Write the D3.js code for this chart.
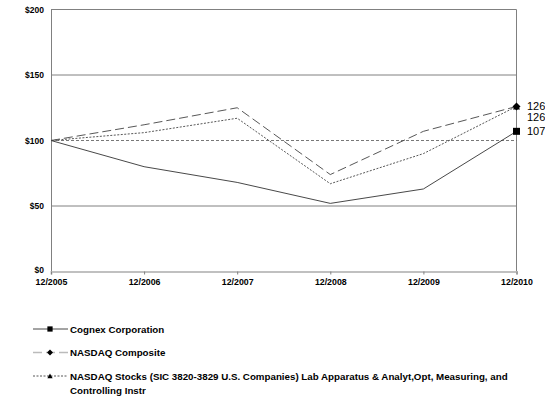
<!DOCTYPE html>
<html><head><meta charset="utf-8">
<script src="https://cdn.jsdelivr.net/npm/d3@7"></script>
<style>html,body{margin:0;padding:0;background:#fff;}svg{display:block;font-family:"Liberation Sans",Arial,sans-serif;}</style>
</head><body><div id="chart"></div>
<script>
const categories = ["12/2005","12/2006","12/2007","12/2008","12/2009","12/2010"];
const cognex = [100, 80, 68, 52, 63, 107];
const nasdaqComposite = [100, 112, 125, 74, 107, 126];
const labApparatus = [100, 106, 117, 67, 90, 126];
const yTicks = [0, 50, 100, 150, 200];
const seriesNames = ["Cognex Corporation", "NASDAQ Composite", "NASDAQ Stocks (SIC 3820-3829 U.S. Companies) Lab Apparatus & Analyt,Opt, Measuring, and", "Controlling Instr"];
const endLabels = ["126", "126", "107"];

const W = 545, H = 397;
const m = {left: 51, right: 516.5, top: 9.5, bottom: 271.5};
const svg = d3.select("#chart").append("svg").attr("width", W).attr("height", H);

const x = d3.scalePoint().domain(categories).range([m.left, m.right]);
const y = d3.scaleLinear().domain([0, 200]).range([m.bottom, m.top]);

[50, 150, 200].forEach(v => {
  svg.append("line").attr("x1", m.left).attr("x2", m.right).attr("y1", y(v)).attr("y2", y(v))
    .attr("stroke", "#808080").attr("stroke-width", 1);
});
svg.append("line").attr("x1", m.right).attr("x2", m.right).attr("y1", m.top).attr("y2", m.bottom)
  .attr("stroke", "#808080").attr("stroke-width", 1);
svg.append("line").attr("x1", m.left).attr("x2", m.right).attr("y1", y(100)).attr("y2", y(100))
  .attr("stroke", "#555").attr("stroke-width", 0.8).attr("stroke-dasharray", "3,2");

const yAxis = d3.axisLeft(y).tickValues(yTicks).tickSize(0).tickPadding(7).tickFormat(d => "$" + d);
const gy = svg.append("g").attr("transform", `translate(${m.left},0)`).call(yAxis);
gy.select(".domain").attr("stroke", "#808080");
gy.selectAll("text").attr("font-size", 8.5).attr("font-weight", "bold").attr("fill", "#000")
  .attr("font-family", "Liberation Sans, Arial, sans-serif")
  .attr("dy", d => d === 0 ? "0.1em" : "0.32em");

const xAxis = d3.axisBottom(x).tickSize(3).tickPadding(4);
const gx = svg.append("g").attr("transform", `translate(0,${m.bottom})`).call(xAxis);
gx.select(".domain").attr("stroke", "#c0c0c0").attr("stroke-width", 2);
gx.selectAll(".tick line").attr("stroke", "#808080");
gx.selectAll("text").attr("font-size", 8.8).attr("font-weight", "bold").attr("fill", "#000")
  .attr("font-family", "Liberation Sans, Arial, sans-serif");

const line = d3.line().x((d, i) => x(categories[i])).y(d => y(d));
const series = [
  {data: cognex, dash: null, width: 0.9, color: "#333"},
  {data: nasdaqComposite, dash: "9,4", width: 0.9, color: "#444"},
  {data: labApparatus, dash: "2,1.5", width: 0.9, color: "#444"}
];
series.forEach(s => {
  svg.append("path").datum(s.data).attr("d", line).attr("fill", "none")
    .attr("stroke", s.color).attr("stroke-width", s.width)
    .attr("stroke-dasharray", s.dash);
});

const diamond = "M0,-4L4,0L0,4L-4,0Z";
const square = "M-3.5,-3.5H3.5V3.5H-3.5Z";
const triangle = "M0,-3.5L3.5,3L-3.5,3Z";
const shapes = [square, diamond, triangle];

const last = categories.length - 1;
[[labApparatus, 2], [cognex, 0], [nasdaqComposite, 1]].forEach(([d, idx]) => {
  svg.append("path").attr("d", shapes[idx])
    .attr("transform", `translate(${x(categories[last])},${y(d[last])})`)
    .attr("fill", "#000");
});

const labelY = [y(nasdaqComposite[last]), y(labApparatus[last]) + 11, y(cognex[last])];
endLabels.forEach((t, i) => {
  svg.append("text").attr("x", 527).attr("y", labelY[i]).attr("dy", "0.36em")
    .attr("font-size", 11).attr("fill", "#000").text(t);
});

const lg = svg.append("g");
const rows = [329, 352.5, 376];
const lgDash = [null, "9,4", "2,1.5"];
const lgColor = ["#333", "#bbb", "#444"];
rows.forEach((ry, i) => {
  lg.append("line").attr("x1", 33).attr("x2", 68).attr("y1", ry).attr("y2", ry)
    .attr("stroke", lgColor[i]).attr("stroke-width", i === 1 ? 1.5 : 0.9).attr("stroke-dasharray", lgDash[i]);
  lg.append("path").attr("d", shapes[i])
    .attr("transform", `translate(50,${ry}) scale(0.75)`).attr("fill", "#000");
  lg.append("text").attr("x", 70).attr("y", ry).attr("dy", "0.36em")
    .attr("font-size", 9.75).attr("font-weight", "bold").attr("fill", "#000").text(seriesNames[i]);
});
lg.append("text").attr("x", 70).attr("y", 390).attr("dy", "0.36em")
  .attr("font-size", 9.75).attr("font-weight", "bold").attr("fill", "#000").text(seriesNames[3]);
</script>
</body></html>
